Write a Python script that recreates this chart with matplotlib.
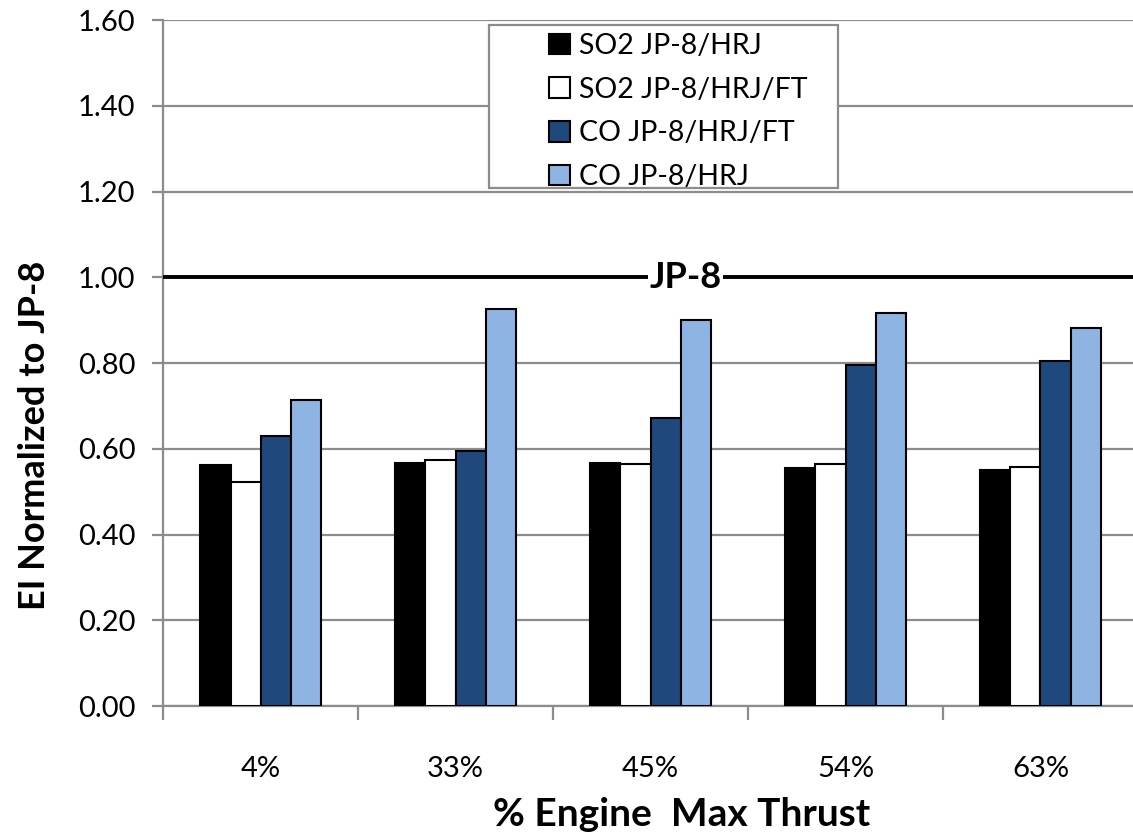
import matplotlib.pyplot as plt
from matplotlib.patches import Rectangle
import numpy as np

plt.rcParams['font.family'] = ['Lato', 'DejaVu Sans']

thrust = ['4%', '33%', '45%', '54%', '63%']
so2_hrj = [0.563, 0.566, 0.566, 0.556, 0.550]
so2_hrj_ft = [0.522, 0.574, 0.565, 0.565, 0.558]
co_hrj_ft = [0.629, 0.595, 0.671, 0.796, 0.805]
co_hrj = [0.713, 0.926, 0.901, 0.917, 0.881]

series = [
    ('SO2 JP-8/HRJ', so2_hrj, 'black'),
    ('SO2 JP-8/HRJ/FT', so2_hrj_ft, 'white'),
    ('CO JP-8/HRJ/FT', co_hrj_ft, '#1F497D'),
    ('CO JP-8/HRJ', co_hrj, '#8EB4E3'),
]

W, H = 1133, 836
fig = plt.figure(figsize=(W / 100, H / 100), dpi=100)
ax = fig.add_axes([0.1439, 0.1555, 0.8605, 0.8205])

x = np.arange(len(thrust))
w = 0.154
for i, (name, vals, col) in enumerate(series):
    ax.bar(x + (i - 1.5) * w, vals, w, color=col, edgecolor='black',
           linewidth=1.5, label=name, zorder=3)

ax.set_xlim(-0.5, len(thrust) - 0.5)
ax.set_ylim(0, 1.6)
yt = np.arange(0, 1.61, 0.2)
ax.set_yticks(yt)
ax.set_yticklabels(['%.2f' % v for v in yt])
ax.yaxis.grid(True, color='#8c8c8c', linewidth=1.6, zorder=0)
ax.set_axisbelow(True)

# x ticks between categories, labels at centers
ax.set_xticks(np.arange(-0.5, len(thrust) + 0.5, 1))
ax.set_xticklabels([])
ax.set_xticks(x, minor=True)
ax.set_xticklabels(thrust, minor=True, fontsize=21)
ax.tick_params(axis='x', which='minor', length=0, pad=36)
ax.tick_params(axis='x', which='major', length=10, width=1.6, color='#8c8c8c')
ax.tick_params(axis='y', length=8, width=1.6, color='#8c8c8c', labelsize=21, pad=12)

for s in ['top', 'right']:
    ax.spines[s].set_visible(False)
for s in ['left', 'bottom']:
    ax.spines[s].set_color('#8c8c8c')
    ax.spines[s].set_linewidth(1.6)

# JP-8 reference line
ax.axhline(1.0, color='black', linewidth=2.8, zorder=4)
ax.text(2.18, 1.0, 'JP-8', ha='center', va='center', fontsize=26,
        fontweight='bold', zorder=5,
        bbox=dict(facecolor='white', edgecolor='none', pad=1))

fig.text(35 / W, 1 - 435 / H, 'EI Normalized to JP-8', rotation=90,
         ha='center', va='center', fontsize=26, fontweight='bold')
fig.text(682 / W, 1 - 815 / H, '% Engine  Max Thrust',
         ha='center', va='center', fontsize=28, fontweight='bold')

# legend box
ax.add_patch(Rectangle((489 / W, 1 - 188 / H), (838 - 489) / W, (188 - 25) / H,
                       transform=fig.transFigure, facecolor='white',
                       edgecolor='#8c8c8c', linewidth=1.6, zorder=5,
                       clip_on=False))
leg = ax.legend(loc='upper left', bbox_to_anchor=(549 / W, 1 - 33 / H),
                bbox_transform=fig.transFigure, fontsize=20.5, frameon=False,
                handlelength=0.75, handleheight=0.75, handletextpad=0.3,
                borderpad=0, labelspacing=0.62, borderaxespad=0)
leg.set_zorder(6)

fig.savefig('out.png', dpi=100)
